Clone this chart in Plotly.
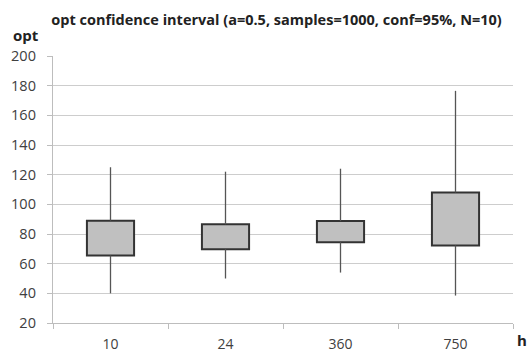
import plotly.graph_objects as go

# Data
categories = ["10", "24", "360", "750"]
whisker_low = [40, 50, 54, 38.5]
box_low = [65.5, 69.7, 74.5, 72.3]
box_high = [89, 86.5, 88.7, 108]
whisker_high = [125, 122, 124, 176.5]
y_ticks = [20, 40, 60, 80, 100, 120, 140, 160, 180, 200]

FONT = "Open Sans"
TXT = "#404040"

fig = go.Figure()

# Whiskers (segments from fences to box edges)
wx, wy = [], []
for c, lo, q1, q3, hi in zip(categories, whisker_low, box_low, box_high, whisker_high):
    wx += [c, c, None, c, c, None]
    wy += [lo, q1, None, q3, hi, None]
fig.add_trace(go.Scatter(x=wx, y=wy, mode="lines",
                         line=dict(color="#555555", width=1.3),
                         hoverinfo="skip", showlegend=False))

# Boxes
fig.add_trace(go.Bar(x=categories,
                     y=[h - l for h, l in zip(box_high, box_low)],
                     base=box_low, width=0.41,
                     marker=dict(color="#c0c0c0", line=dict(color="#333333", width=2)),
                     showlegend=False))

fig.update_layout(
    width=527, height=354,
    margin=dict(l=53, r=14, t=56, b=31, autoexpand=False),
    paper_bgcolor="white", plot_bgcolor="white",
    font=dict(family=FONT, size=14, color=TXT),
    title=dict(text="opt confidence interval (a=0.5, samples=1000, conf=95%, N=10)",
               x=0.486, xref="paper", xanchor="center", y=0.944, yanchor="middle",
               font=dict(family=FONT, size=14.5, color="#222222", weight="bold")),
    showlegend=False,
)
fig.update_xaxes(type="category", categoryorder="array", categoryarray=categories,
                 showgrid=False, showline=True, linecolor="#bdbdbd", linewidth=1.3,
                 ticks="outside", tickson="boundaries", ticklen=5, tickcolor="#bdbdbd",
                 tickwidth=1.3, tickfont=dict(family=FONT, size=14, color=TXT),
                 zeroline=False, automargin=False, ticklabelstandoff=8)
fig.update_yaxes(range=[20, 200], tickvals=y_ticks, showgrid=True, gridcolor="#cdcdcd",
                 gridwidth=1.3, showline=True, linecolor="#bdbdbd", linewidth=1.3,
                 ticks="outside", ticklen=5, tickcolor="#bdbdbd", tickwidth=1.3,
                 tickfont=dict(family=FONT, size=14.5, color=TXT), zeroline=False,
                 automargin=False, ticklabelstandoff=8)

fig.add_annotation(text="<b>opt</b>", xref="paper", yref="paper", x=-0.027, y=1.077,
                   xanchor="right", yanchor="middle", showarrow=False,
                   font=dict(family=FONT, size=15, color="#222222"))
fig.add_annotation(text="<b>h</b>", xref="paper", yref="paper", x=1.0, y=0,
                   xanchor="left", yanchor="middle", showarrow=False, xshift=2, yshift=-17,
                   font=dict(family=FONT, size=15, color="#222222"))

fig.write_html("out.html", config={"displayModeBar": False},
               post_script="document.body.style.margin='0';document.body.style.overflow='hidden';")
